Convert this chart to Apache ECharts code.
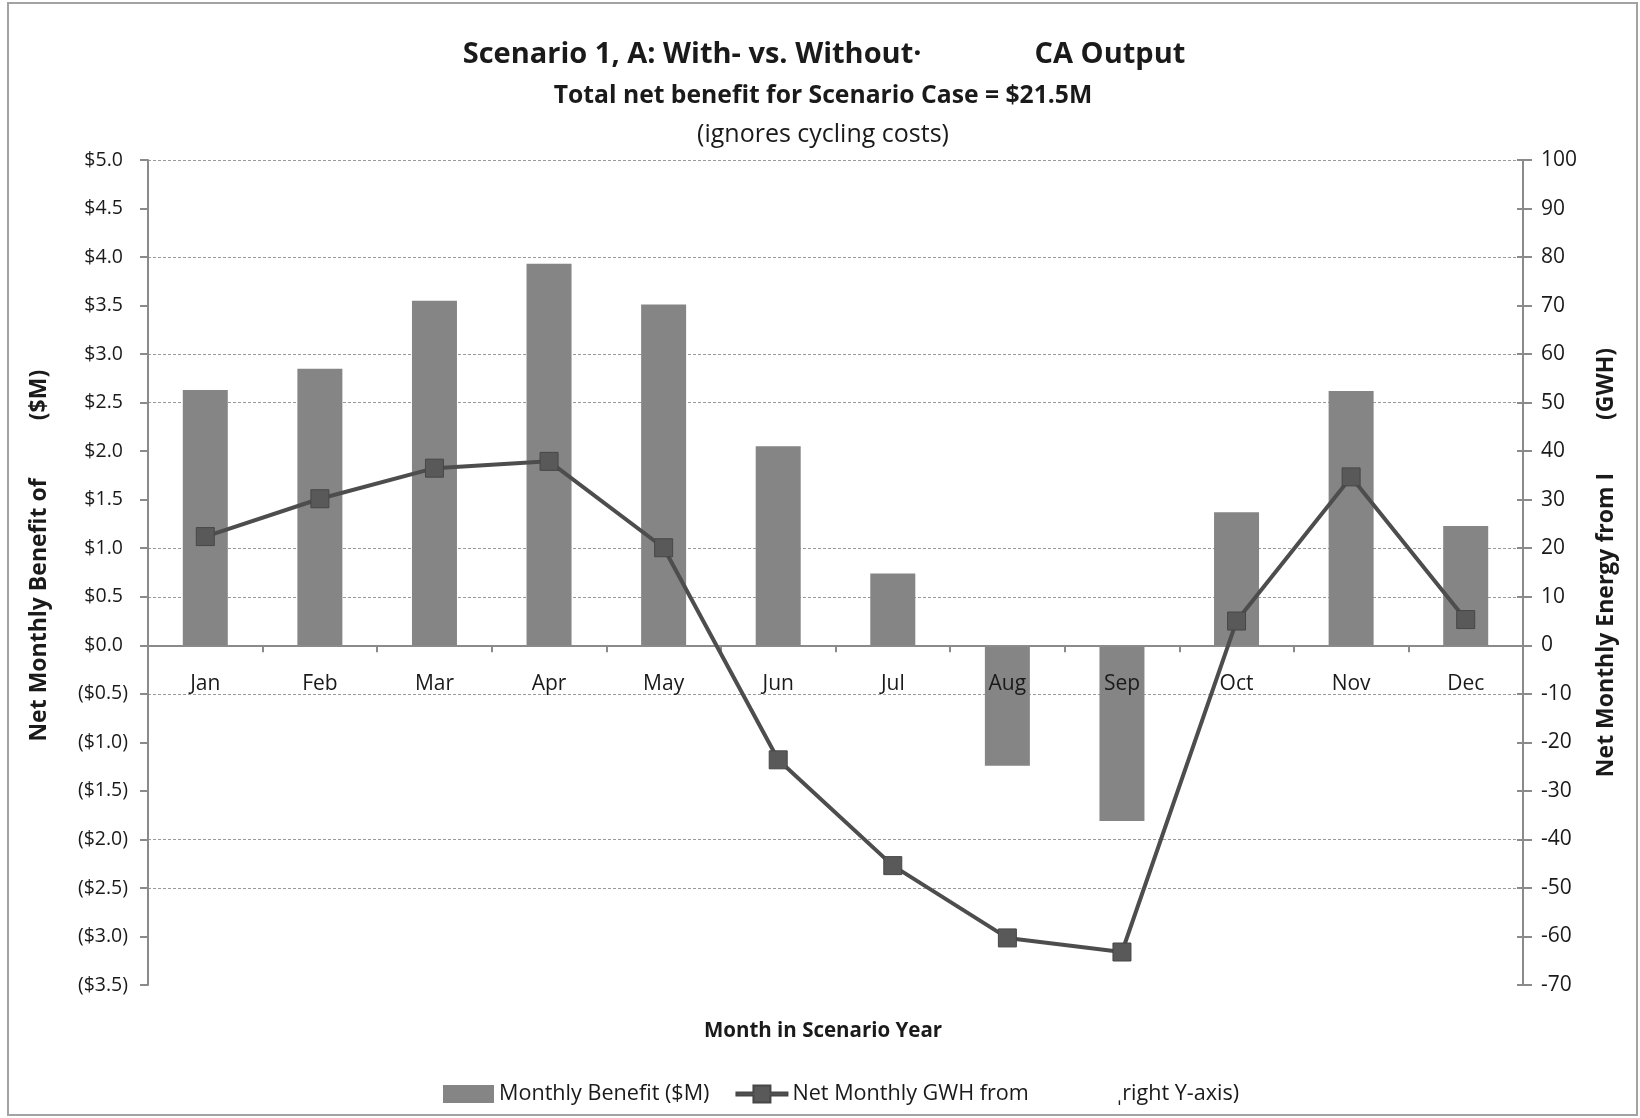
<!DOCTYPE html>
<html>
<head>
<meta charset="utf-8">
<title>Scenario 1, A: Monthly Benefit and Net Energy</title>
<script src="https://cdn.jsdelivr.net/npm/echarts@6/dist/echarts.min.js"></script>
<style>
  html, body { margin: 0; padding: 0; background: #ffffff; }
  #chart { width: 1640px; height: 1118px; }
</style>
</head>
<body>
<div id="chart"></div>
<script>
// Months on the category axis
const months = ['Jan', 'Feb', 'Mar', 'Apr', 'May', 'Jun', 'Jul', 'Aug', 'Sep', 'Oct', 'Nov', 'Dec'];

// Net monthly benefit, $M (left axis, bars)
const monthlyBenefit = [2.63, 2.85, 3.55, 3.93, 3.51, 2.05, 0.74, -1.24, -1.81, 1.37, 2.62, 1.23];

// Net monthly energy, GWH (right axis, line)
const netMonthlyGwh = [22.4, 30.2, 36.5, 37.9, 20.1, -23.6, -45.4, -60.3, -63.2, 5.0, 34.7, 5.3];

// Axis ranges and tick steps
const benefitTicks = { min: -3.5, max: 5.0, step: 0.5 };
const energyTicks = { min: -70, max: 100, step: 10 };

// Benefit levels that carry a horizontal gridline
const gridlineLevels = [-2.5, -2.0, -0.5, 0.5, 1.0, 2.5, 3.0, 4.0, 5.0];

const FONT = '"Open Sans", Lato, sans-serif';
const TEXT = '#1a1a1a';
const AXIS_GREY = '#8a8a8a';

const GRID = { left: 148, right: 117, top: 160, bottom: 133 };
const PLOT_H = 1118 - GRID.top - GRID.bottom;

// accounting style: negatives in parentheses, positives padded where ")" would sit
function dollarLabel(v) {
  const a = Math.abs(v).toFixed(1);
  return v < 0 ? '($' + a + ')' : '$' + a + ' ';
}

// One colour per split line, from the axis minimum upwards
const splitColors = [];
for (let v = benefitTicks.min; v <= benefitTicks.max + 1e-9; v += benefitTicks.step) {
  const on = gridlineLevels.some(g => Math.abs(g - v) < 1e-6);
  splitColors.push(on ? '#9a9a9a' : 'rgba(0,0,0,0)');
}

// distance from the bottom of the plot up to the $0 line
const zeroOffset = PLOT_H * (0 - benefitTicks.min) / (benefitTicks.max - benefitTicks.min);

function label(text, x, y, size, weight, rot) {
  return {
    type: 'text', silent: true, x: x, y: y, rotation: rot || 0,
    style: { text: text, fontFamily: FONT, fontSize: size, fontWeight: weight, fill: TEXT, align: 'center', verticalAlign: 'middle' }
  };
}

const chart = echarts.init(document.getElementById('chart'), null, { renderer: 'canvas' });

const option = {
  backgroundColor: '#ffffff',
  animation: false,
  textStyle: { fontFamily: FONT },
  grid: { left: GRID.left, right: GRID.right, top: GRID.top, bottom: GRID.bottom, containLabel: false },
  legend: {
    left: 438, top: 1078,
    itemWidth: 51, itemHeight: 18, itemGap: 26,
    textStyle: {
      fontFamily: FONT, fontSize: 21.6, color: TEXT,
      rich: {
        t: { fontFamily: FONT, fontSize: 21.6, color: TEXT },
        g: { width: 88, fontSize: 21.6 }
      }
    },
    formatter: function (name) {
      if (name.indexOf('GWH') >= 0) {
        return '{t|Net Monthly GWH from}{g| }{t|ˌright Y-axis)}';
      }
      return name;
    },
    data: [
      { name: 'Monthly Benefit ($M)', icon: 'rect' },
      {
        name: 'Net Monthly GWH from (right Y-axis)',
        icon: 'path://M0,7.5H17V0.5H34V7.5H51V10.5H34V17.5H17V10.5H0Z'
      }
    ]
  },
  xAxis: [
    {
      type: 'category',
      data: months,
      boundaryGap: true,
      axisLine: { onZero: true, lineStyle: { color: AXIS_GREY, width: 2 } },
      axisTick: { show: true, length: 7, lineStyle: { color: AXIS_GREY, width: 2 } },
      axisLabel: { show: false },
      splitLine: { show: false },
      z: 3
    },
    {
      // month names, hung just below the $0 line and drawn over the bars
      type: 'category',
      data: months,
      boundaryGap: true,
      position: 'bottom',
      offset: -zeroOffset,
      axisLine: { show: false, onZero: false },
      axisTick: { show: false },
      axisLabel: { margin: 28, fontFamily: FONT, fontSize: 21, color: TEXT },
      splitLine: { show: false },
      z: 10
    }
  ],
  yAxis: [
    {
      type: 'value',
      position: 'left',
      min: benefitTicks.min, max: benefitTicks.max, interval: benefitTicks.step,
      axisLine: { show: true, onZero: false, lineStyle: { color: AXIS_GREY, width: 2 } },
      axisTick: { show: true, length: 8, lineStyle: { color: AXIS_GREY, width: 2 } },
      axisLabel: { margin: 20, fontFamily: FONT, fontSize: 19.5, color: TEXT, formatter: dollarLabel },
      splitLine: { show: true, lineStyle: { color: splitColors, width: 1, type: [3, 2] } }
    },
    {
      type: 'value',
      position: 'right',
      min: energyTicks.min, max: energyTicks.max, interval: energyTicks.step,
      axisLine: { show: true, onZero: false, lineStyle: { color: AXIS_GREY, width: 2 } },
      axisTick: { show: true, length: 9, lineStyle: { color: AXIS_GREY, width: 2 } },
      axisLabel: { margin: 18, fontFamily: FONT, fontSize: 21, color: TEXT },
      splitLine: { show: false }
    },
    {
      // inner half of the right-hand tick marks
      type: 'value',
      position: 'right',
      min: energyTicks.min, max: energyTicks.max, interval: energyTicks.step,
      axisLine: { show: false },
      axisTick: { show: true, inside: true, length: 6, lineStyle: { color: AXIS_GREY, width: 2 } },
      axisLabel: { show: false },
      splitLine: { show: false }
    }
  ],
  graphic: [
    {
      type: 'rect', silent: true, z: -1,
      shape: { x: 8, y: 3, width: 1629, height: 1112 },
      style: { fill: 'none', stroke: '#a3a3a3', lineWidth: 2 }
    },
    {
      type: 'text', silent: true, x: 824, y: 55,
      style: {
        text: '{a|Scenario 1, A: With- vs. Without·}{gap| }{a|CA Output}',
        align: 'center', verticalAlign: 'middle',
        rich: {
          a: { fontFamily: FONT, fontSize: 29, fontWeight: 'bold', fill: TEXT },
          gap: { width: 113, fontSize: 29 }
        }
      }
    },
    label('Total net benefit for Scenario Case = $21.5M', 823, 96, 24.7, 'bold'),
    label('(ignores cycling costs)', 823, 135, 25, 'normal'),
    label('Net Monthly Benefit of', 39, 610, 23, 'bold', Math.PI / 2),
    label('($M)', 39, 395, 23, 'bold', Math.PI / 2),
    label('Net Monthly Energy from I', 1606, 625, 23, 'bold', Math.PI / 2),
    label('(GWH)', 1606, 384, 23, 'bold', Math.PI / 2),
    label('Month in Scenario Year', 823, 1031, 20.5, 'bold')
  ],
  series: [
    {
      name: 'Monthly Benefit ($M)',
      type: 'bar',
      xAxisIndex: 0,
      yAxisIndex: 0,
      data: monthlyBenefit,
      barWidth: 45,
      itemStyle: { color: '#858585' },
      z: 2
    },
    {
      name: 'Net Monthly GWH from (right Y-axis)',
      type: 'line',
      xAxisIndex: 0,
      yAxisIndex: 1,
      data: netMonthlyGwh,
      symbol: 'rect',
      symbolSize: 18,
      lineStyle: { color: '#4d4d4d', width: 4 },
      itemStyle: { color: '#595959', borderColor: '#474747', borderWidth: 1 },
      z: 4
    }
  ]
};

chart.setOption(option);
</script>
</body>
</html>
